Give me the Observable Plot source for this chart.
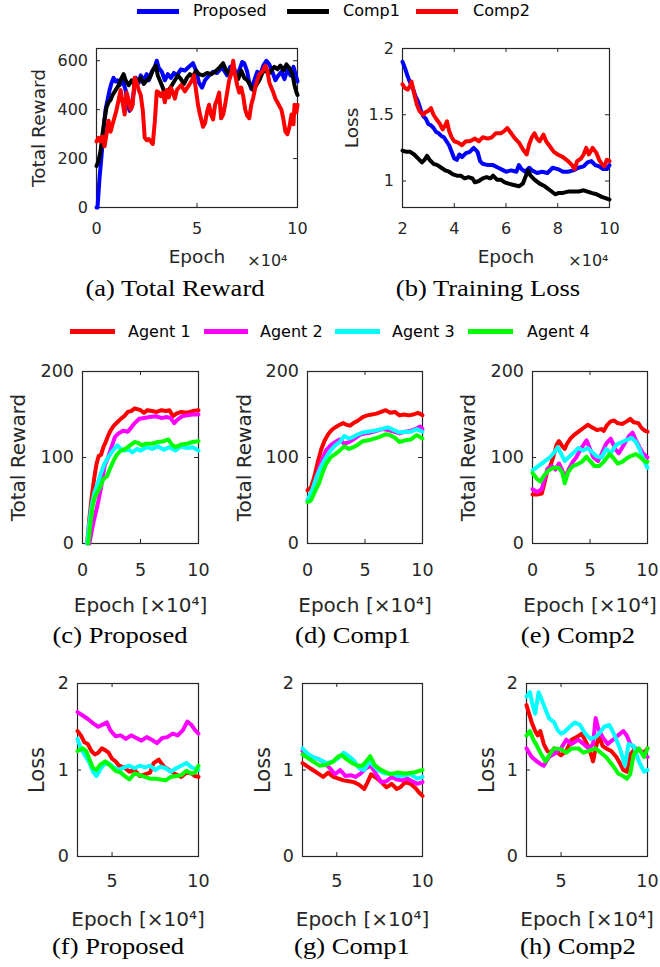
<!DOCTYPE html>
<html><head><meta charset="utf-8">
<script src="https://cdn.jsdelivr.net/npm/d3@7"></script>
<script src="https://cdn.jsdelivr.net/npm/@observablehq/plot@0.6"></script>
<style>
body{margin:0;background:#fff;}
#root{position:relative;width:660px;height:967px;overflow:hidden;background:#fff;}
.panel{position:absolute;}
.panel svg.ov{position:absolute;left:0;top:0;}
.cap{position:absolute;font-family:"Liberation Serif";font-size:22.5px;line-height:1;white-space:nowrap;color:#000;transform:translateX(-50%) scaleX(1.18);}
.lg{position:absolute;height:5px;}
.lt{position:absolute;font-family:"DejaVu Sans";font-size:16px;line-height:1;white-space:nowrap;color:#000;}
</style>
</head><body><div id="root"></div>
<script>
// ---------- data (x in units of 10^4 epochs) ----------
const aProposed = [[0,0],[0.05,0],[0.15,120],[0.25,210],[0.35,320],[0.45,400],[0.55,440],[0.65,480],[0.75,510],[0.85,530],[0.95,515],[1.05,520],[1.15,500],[1.3,520],[1.45,480],[1.55,420],[1.65,395],[1.75,410],[1.85,470],[1.95,530],[2.1,510],[2.2,540],[2.35,520],[2.5,545],[2.6,520],[2.75,555],[2.9,575],[3.0,600],[3.1,570],[3.25,555],[3.4,520],[3.55,545],[3.7,530],[3.85,550],[4.0,540],[4.2,565],[4.4,560],[4.6,575],[4.8,590],[4.95,560],[5.1,510],[5.25,490],[5.4,520],[5.6,540],[5.8,555],[6.0,550],[6.2,570],[6.35,560],[6.5,540],[6.65,575],[6.8,580],[6.95,545],[7.1,560],[7.25,595],[7.35,590],[7.5,555],[7.6,510],[7.7,485],[7.85,520],[8.0,555],[8.15,545],[8.3,580],[8.45,600],[8.6,585],[8.75,555],[8.9,520],[9.05,540],[9.2,555],[9.35,525],[9.5,565],[9.65,540],[9.8,575],[9.9,545],[10.0,515]];
const aComp1 = [[0,170],[0.1,190],[0.2,230],[0.3,300],[0.4,360],[0.5,410],[0.6,430],[0.7,440],[0.8,460],[0.95,480],[1.1,500],[1.25,530],[1.35,545],[1.45,520],[1.6,500],[1.75,520],[1.9,500],[2.05,515],[2.2,530],[2.35,505],[2.5,520],[2.65,530],[2.8,560],[2.95,580],[3.05,540],[3.15,520],[3.3,490],[3.45,450],[3.6,480],[3.75,500],[3.9,520],[4.05,540],[4.2,525],[4.35,505],[4.5,530],[4.65,545],[4.8,535],[4.95,560],[5.1,545],[5.3,540],[5.5,550],[5.7,545],[5.9,555],[6.1,570],[6.3,590],[6.45,560],[6.6,545],[6.75,575],[6.9,550],[7.05,525],[7.2,560],[7.35,530],[7.5,520],[7.65,500],[7.8,480],[7.95,500],[8.1,520],[8.25,550],[8.4,565],[8.55,545],[8.7,560],[8.85,575],[9.0,565],[9.15,580],[9.3,560],[9.45,585],[9.6,570],[9.75,545],[9.85,500],[9.95,470],[10.0,460]];
const aComp2 = [[0,270],[0.1,285],[0.2,270],[0.3,290],[0.4,250],[0.5,300],[0.6,355],[0.7,310],[0.8,340],[0.9,370],[1.0,400],[1.1,440],[1.2,480],[1.3,430],[1.4,380],[1.5,470],[1.6,440],[1.7,400],[1.8,420],[1.9,530],[2.0,510],[2.1,480],[2.2,460],[2.3,400],[2.4,285],[2.5,275],[2.6,280],[2.7,270],[2.8,260],[2.9,350],[3.0,475],[3.1,470],[3.2,455],[3.3,470],[3.4,430],[3.5,480],[3.6,450],[3.7,490],[3.8,470],[3.9,445],[4.0,480],[4.2,500],[4.4,475],[4.6,500],[4.75,520],[4.85,540],[4.95,480],[5.05,420],[5.15,380],[5.3,330],[5.4,345],[5.5,390],[5.6,420],[5.7,380],[5.8,360],[5.9,420],[6.0,440],[6.1,470],[6.2,365],[6.3,380],[6.4,420],[6.5,470],[6.6,520],[6.7,545],[6.8,600],[6.9,540],[7.0,500],[7.1,470],[7.2,490],[7.3,455],[7.4,400],[7.5,375],[7.6,365],[7.7,420],[7.8,450],[7.9,490],[8.0,520],[8.1,545],[8.25,555],[8.4,580],[8.5,560],[8.6,510],[8.7,490],[8.8,470],[8.9,445],[9.0,430],[9.1,415],[9.2,400],[9.3,360],[9.4,310],[9.5,300],[9.6,330],[9.7,380],[9.8,340],[9.85,420],[9.95,390],[10.0,420]];

const bProposed = [[2.0,1.9],[2.1,1.85],[2.2,1.79],[2.3,1.74],[2.4,1.7],[2.5,1.64],[2.6,1.6],[2.7,1.54],[2.8,1.49],[2.9,1.47],[3.0,1.43],[3.1,1.42],[3.2,1.4],[3.3,1.37],[3.4,1.36],[3.5,1.34],[3.6,1.33],[3.7,1.3],[3.8,1.27],[3.9,1.22],[4.0,1.17],[4.1,1.16],[4.2,1.2],[4.3,1.18],[4.45,1.21],[4.6,1.22],[4.75,1.25],[4.9,1.22],[5.0,1.15],[5.1,1.13],[5.3,1.12],[5.5,1.12],[5.7,1.1],[5.9,1.08],[6.0,1.07],[6.2,1.08],[6.4,1.07],[6.5,1.12],[6.6,1.09],[6.75,1.07],[6.9,1.1],[7.0,1.08],[7.2,1.06],[7.4,1.07],[7.6,1.06],[7.8,1.1],[8.0,1.09],[8.2,1.07],[8.4,1.07],[8.6,1.08],[8.8,1.1],[9.0,1.11],[9.15,1.14],[9.3,1.15],[9.45,1.12],[9.6,1.11],[9.75,1.09],[9.9,1.09],[10.0,1.12]];
const bComp1 = [[2.0,1.23],[2.15,1.22],[2.3,1.22],[2.45,1.2],[2.6,1.17],[2.75,1.14],[2.85,1.16],[2.95,1.19],[3.05,1.16],[3.2,1.13],[3.35,1.12],[3.5,1.1],[3.65,1.08],[3.8,1.07],[3.95,1.05],[4.1,1.04],[4.25,1.04],[4.4,1.02],[4.55,1.03],[4.7,1.02],[4.8,0.99],[4.95,1.0],[5.1,1.02],[5.25,1.03],[5.4,1.02],[5.5,1.04],[5.65,1.01],[5.8,1.01],[5.95,0.99],[6.1,0.98],[6.3,0.97],[6.5,0.96],[6.65,0.98],[6.75,1.03],[6.85,1.08],[6.95,1.04],[7.1,1.01],[7.3,0.98],[7.5,0.96],[7.7,0.93],[7.9,0.9],[8.05,0.91],[8.2,0.91],[8.4,0.92],[8.6,0.92],[8.8,0.92],[9.0,0.93],[9.15,0.92],[9.3,0.91],[9.5,0.9],[9.7,0.88],[9.85,0.87],[10.0,0.86]];
const bComp2 = [[2.0,1.73],[2.1,1.7],[2.2,1.69],[2.3,1.72],[2.35,1.75],[2.45,1.66],[2.55,1.58],[2.65,1.53],[2.8,1.5],[2.9,1.52],[3.0,1.53],[3.1,1.55],[3.2,1.5],[3.3,1.47],[3.45,1.43],[3.55,1.39],[3.65,1.42],[3.72,1.45],[3.8,1.38],[3.9,1.33],[4.0,1.3],[4.15,1.29],[4.3,1.27],[4.45,1.3],[4.6,1.3],[4.8,1.32],[4.95,1.3],[5.1,1.33],[5.3,1.32],[5.45,1.33],[5.6,1.36],[5.8,1.36],[5.95,1.38],[6.05,1.4],[6.2,1.36],[6.35,1.32],[6.5,1.29],[6.65,1.24],[6.8,1.2],[6.9,1.28],[7.0,1.33],[7.1,1.36],[7.2,1.32],[7.3,1.3],[7.45,1.35],[7.55,1.3],[7.7,1.26],[7.85,1.22],[8.0,1.2],[8.2,1.18],[8.4,1.15],[8.55,1.12],[8.65,1.09],[8.75,1.15],[8.9,1.17],[9.0,1.2],[9.1,1.25],[9.2,1.2],[9.35,1.25],[9.5,1.21],[9.6,1.16],[9.7,1.13],[9.8,1.11],[9.9,1.16],[10.0,1.15]];

const cAgent1 = [[0.4,0],[0.6,30],[0.8,55],[1.0,75],[1.2,92],[1.4,102],[1.6,103],[1.8,112],[2.0,118],[2.2,125],[2.4,131],[2.7,137],[3.0,141],[3.3,145],[3.6,148],[3.9,153],[4.2,154],[4.5,157],[4.8,156],[5.0,155],[5.3,152],[5.6,155],[6.0,154],[6.4,153],[6.8,155],[7.2,154],[7.5,155],[7.8,148],[8.1,151],[8.5,153],[9.0,152],[9.5,154],[10.0,155]];
const cAgent2 = [[0.6,0],[0.8,15],[1.0,28],[1.3,45],[1.6,65],[1.9,90],[2.2,100],[2.5,112],[2.8,124],[3.1,128],[3.5,131],[3.9,130],[4.2,135],[4.5,140],[4.9,145],[5.3,146],[5.8,147],[6.3,148],[6.8,146],[7.3,147],[7.6,146],[7.9,140],[8.2,144],[8.6,148],[9.0,149],[9.5,150],[10.0,150]];
const cAgent3 = [[0.4,0],[0.6,25],[0.8,45],[1.0,58],[1.3,70],[1.6,82],[1.9,93],[2.2,100],[2.5,106],[2.8,111],[3.0,114],[3.3,110],[3.6,108],[4.0,109],[4.3,106],[4.7,110],[5.0,108],[5.5,112],[6.0,110],[6.5,113],[7.0,109],[7.5,112],[8.0,108],[8.5,113],[9.0,111],[9.5,112],[10.0,108]];
const cAgent4 = [[0.5,0],[0.7,25],[0.9,45],[1.1,55],[1.3,60],[1.6,68],[1.8,75],[2.1,78],[2.4,88],[2.7,97],[3.0,104],[3.3,108],[3.7,110],[4.1,114],[4.5,118],[4.8,117],[5.1,114],[5.5,116],[6.0,116],[6.5,118],[7.0,119],[7.4,121],[7.7,115],[8.0,112],[8.5,115],[9.0,116],[9.5,118],[10.0,119]];

const dAgent1 = [[0,62],[0.3,65],[0.6,78],[0.9,95],[1.2,110],[1.5,120],[1.8,127],[2.1,132],[2.4,135],[2.8,138],[3.1,140],[3.4,138],[3.7,137],[4.0,140],[4.4,143],[4.8,147],[5.2,149],[5.6,150],[6.0,151],[6.4,153],[6.8,155],[7.2,152],[7.6,153],[8.0,149],[8.4,150],[8.8,149],[9.2,150],[9.6,152],[10.0,149]];
const dAgent2 = [[0,50],[0.4,60],[0.8,78],[1.2,95],[1.6,108],[2.0,114],[2.4,118],[2.8,121],[3.2,116],[3.6,118],[4.0,121],[4.5,126],[5.0,128],[5.5,129],[6.0,131],[6.5,133],[7.0,132],[7.5,130],[8.0,128],[8.5,130],[9.0,131],[9.5,134],[9.8,136],[10.0,133]];
const dAgent3 = [[0,50],[0.4,62],[0.8,78],[1.2,90],[1.6,100],[2.0,108],[2.4,114],[2.8,118],[3.2,125],[3.6,122],[4.0,124],[4.4,127],[4.8,129],[5.2,130],[5.8,131],[6.4,133],[7.0,135],[7.5,132],[8.0,129],[8.5,130],[9.0,130],[9.5,133],[10.0,130]];
const dAgent4 = [[0,48],[0.3,50],[0.7,62],[1.0,70],[1.3,82],[1.6,92],[2.0,100],[2.4,104],[2.8,108],[3.2,113],[3.6,110],[4.0,112],[4.4,115],[4.8,119],[5.3,120],[5.8,122],[6.3,124],[6.8,127],[7.2,126],[7.6,123],[8.0,118],[8.5,120],[9.0,121],[9.5,126],[10.0,122]];

const eAgent1 = [[0,57],[0.4,57],[0.8,58],[1.0,68],[1.3,85],[1.6,92],[1.9,105],[2.1,115],[2.3,119],[2.6,113],[2.8,110],[3.0,116],[3.3,122],[3.6,126],[4.0,130],[4.4,134],[4.8,138],[5.2,135],[5.6,132],[6.0,133],[6.2,131],[6.5,138],[6.8,142],[7.1,143],[7.4,140],[7.8,139],[8.2,142],[8.5,145],[8.8,141],[9.2,140],[9.5,134],[9.8,131],[10.0,130]];
const eAgent2 = [[0,63],[0.4,60],[0.8,63],[1.0,73],[1.3,87],[1.7,90],[2.0,86],[2.3,93],[2.6,85],[2.8,75],[3.1,85],[3.5,95],[3.8,100],[4.2,110],[4.5,116],[4.7,120],[5.0,110],[5.3,100],[5.7,96],[6.0,104],[6.4,116],[6.8,122],[7.2,110],[7.5,105],[8.0,116],[8.4,125],[8.7,129],[9.0,120],[9.3,112],[9.6,105],[10.0,100]];
const eAgent3 = [[0,85],[0.5,90],[1.0,95],[1.5,100],[1.9,106],[2.2,112],[2.5,104],[2.8,96],[3.2,101],[3.6,106],[4.0,111],[4.4,108],[4.8,111],[5.2,106],[5.6,101],[6.0,100],[6.4,110],[6.8,105],[7.3,115],[7.8,118],[8.3,121],[8.6,123],[9.0,118],[9.3,110],[9.7,96],[10.0,88]];
const eAgent4 = [[0,82],[0.4,75],[0.7,72],[1.0,79],[1.4,85],[1.8,88],[2.3,88],[2.6,82],[2.8,70],[3.1,83],[3.5,90],[3.9,92],[4.3,95],[4.7,101],[5.0,96],[5.4,90],[5.8,90],[6.2,95],[6.7,104],[7.0,100],[7.4,93],[7.8,95],[8.2,99],[8.6,102],[9.0,104],[9.4,100],[9.8,95],[10.0,95]];

const fAgent1 = [[3.0,1.45],[3.2,1.4],[3.4,1.32],[3.6,1.3],[3.8,1.22],[4.0,1.18],[4.2,1.2],[4.4,1.25],[4.6,1.23],[4.8,1.2],[5.0,1.13],[5.2,1.1],[5.4,1.05],[5.7,1.03],[6.0,0.98],[6.3,1.0],[6.6,0.93],[6.9,0.95],[7.2,0.97],[7.4,1.08],[7.7,1.12],[8.0,1.04],[8.3,1.0],[8.6,0.96],[9.0,0.92],[9.3,0.97],[9.6,0.96],[9.8,0.93],[10.0,0.92]];
const fAgent2 = [[3.0,1.67],[3.3,1.63],[3.6,1.59],[3.9,1.54],[4.2,1.5],[4.5,1.53],[4.7,1.55],[4.9,1.46],[5.2,1.39],[5.5,1.4],[5.8,1.36],[6.1,1.4],[6.4,1.37],[6.7,1.34],[7.0,1.38],[7.3,1.35],[7.6,1.31],[7.9,1.37],[8.2,1.38],[8.5,1.42],[8.8,1.4],[9.1,1.46],[9.35,1.56],[9.6,1.52],[9.8,1.46],[10.0,1.42]];
const fAgent3 = [[3.0,1.36],[3.2,1.25],[3.4,1.18],[3.7,1.08],[3.9,0.98],[4.1,0.93],[4.3,1.0],[4.5,1.06],[4.8,1.08],[5.1,1.03],[5.4,1.0],[5.7,1.03],[6.0,1.05],[6.3,1.02],[6.6,1.05],[6.9,1.03],[7.2,1.05],[7.5,1.0],[7.8,1.04],[8.1,1.02],[8.4,0.98],[8.7,1.02],[9.0,1.05],[9.3,1.08],[9.6,1.03],[10.0,1.0]];
const fAgent4 = [[3.0,1.22],[3.3,1.25],[3.5,1.22],[3.7,1.12],[3.9,1.02],[4.1,1.0],[4.3,1.06],[4.6,1.1],[4.9,1.05],[5.2,0.99],[5.5,0.97],[5.8,0.92],[6.0,0.89],[6.3,0.96],[6.6,0.94],[6.9,0.92],[7.2,0.9],[7.5,0.9],[7.8,0.89],[8.1,0.88],[8.4,0.92],[8.7,0.93],[9.0,0.94],[9.3,0.99],[9.6,0.96],[9.8,0.97],[10.0,1.05]];

const gAgent1 = [[3.0,1.08],[3.3,1.04],[3.6,1.0],[3.9,0.96],[4.2,0.92],[4.5,0.97],[4.8,0.92],[5.1,0.9],[5.4,0.88],[5.7,0.87],[6.0,0.86],[6.3,0.83],[6.6,0.78],[6.8,0.86],[7.0,0.95],[7.3,0.91],[7.6,0.86],[7.9,0.8],[8.2,0.84],[8.5,0.78],[8.7,0.8],[9.0,0.86],[9.3,0.84],[9.6,0.79],[9.8,0.74],[10.0,0.7]];
const gAgent2 = [[3.0,1.22],[3.3,1.17],[3.6,1.15],[4.0,1.12],[4.3,1.08],[4.6,1.02],[4.9,0.95],[5.2,1.0],[5.5,0.93],[5.8,0.94],[6.1,0.92],[6.4,0.96],[6.7,1.02],[7.0,1.05],[7.3,0.95],[7.6,0.86],[7.9,0.87],[8.2,0.92],[8.5,0.89],[8.8,0.88],[9.1,0.9],[9.4,0.87],[9.7,0.84],[10.0,0.86]];
const gAgent3 = [[3.0,1.25],[3.3,1.19],[3.6,1.15],[4.0,1.12],[4.4,1.08],[4.8,1.1],[5.1,1.14],[5.4,1.2],[5.7,1.16],[6.0,1.11],[6.3,1.02],[6.6,1.0],[6.9,1.1],[7.1,1.06],[7.4,1.0],[7.8,0.96],[8.2,0.96],[8.6,0.93],[9.0,0.94],[9.3,0.95],[9.7,0.9],[10.0,0.92]];
const gAgent4 = [[3.0,1.18],[3.3,1.14],[3.6,1.1],[4.0,1.05],[4.4,1.06],[4.8,1.1],[5.1,1.16],[5.3,1.17],[5.6,1.12],[5.9,1.08],[6.2,1.05],[6.5,1.05],[6.8,1.12],[6.95,1.16],[7.2,1.06],[7.5,1.01],[7.8,0.98],[8.1,0.95],[8.5,0.97],[9.0,0.96],[9.5,0.97],[9.8,0.99],[10.0,1.0]];

const hAgent1 = [[3.0,1.75],[3.15,1.65],[3.3,1.55],[3.5,1.45],[3.65,1.4],[3.8,1.45],[4.0,1.3],[4.2,1.22],[4.4,1.2],[4.6,1.25],[4.8,1.2],[5.0,1.17],[5.3,1.22],[5.6,1.35],[5.9,1.38],[6.2,1.42],[6.5,1.3],[6.7,1.2],[6.85,1.1],[7.0,1.25],[7.2,1.4],[7.4,1.28],[7.6,1.25],[7.9,1.22],[8.2,1.15],[8.4,1.08],[8.6,1.0],[8.8,0.98],[9.0,1.18],[9.3,1.25],[9.6,1.22],[9.8,1.2],[10.0,1.25]];
const hAgent2 = [[3.0,1.25],[3.3,1.15],[3.6,1.1],[3.8,1.07],[4.0,1.05],[4.3,1.15],[4.7,1.2],[5.0,1.25],[5.3,1.35],[5.6,1.3],[6.0,1.35],[6.3,1.3],[6.6,1.25],[6.85,1.3],[7.0,1.6],[7.15,1.48],[7.4,1.38],[7.7,1.3],[8.0,1.35],[8.3,1.4],[8.6,1.45],[8.8,1.4],[9.0,1.3],[9.3,1.25],[9.6,1.22],[9.8,1.18],[10.0,1.15]];
const hAgent3 = [[3.0,1.85],[3.2,1.9],[3.35,1.75],[3.5,1.65],[3.7,1.9],[3.9,1.8],[4.1,1.7],[4.3,1.6],[4.6,1.55],[4.8,1.46],[5.0,1.42],[5.2,1.44],[5.5,1.5],[5.8,1.55],[6.1,1.52],[6.4,1.42],[6.7,1.36],[7.0,1.38],[7.2,1.42],[7.5,1.5],[7.8,1.52],[8.1,1.4],[8.4,1.25],[8.7,1.05],[8.9,1.3],[9.2,1.28],[9.5,1.1],[9.8,0.98],[10.0,1.0]];
const hAgent4 = [[3.0,1.4],[3.2,1.45],[3.4,1.35],[3.6,1.28],[3.8,1.2],[4.1,1.1],[4.4,1.2],[4.6,1.25],[5.0,1.24],[5.3,1.2],[5.6,1.25],[6.0,1.25],[6.3,1.2],[6.6,1.22],[7.0,1.25],[7.3,1.2],[7.6,1.15],[8.0,1.05],[8.3,0.96],[8.6,0.93],[8.8,0.9],[9.0,0.95],[9.2,1.18],[9.5,1.25],[9.8,1.15],[10.0,1.25]];

// tick labels
const xTicksTop = [0, 5, 10];
const xTicksLoss = [2, 4, 6, 8, 10];
const yTicksReward = [0, 200, 400, 600];
const yTicksLoss = [1, 1.5, 2];
const xTicksAgent = [0, 5, 10];
const yTicksAgentReward = [0, 100, 200];
const xTicksAgentLoss = [5, 10];
const yTicksAgentLoss = [0, 1, 2];

// legend / captions
const methodNames = ["Proposed", "Comp1", "Comp2"];
const methodColors = ["#0000ff", "#000000", "#ff0000"];
const agentNames = ["Agent 1", "Agent 2", "Agent 3", "Agent 4"];
const agentColors = ["#ff0000", "#ff00ff", "#00ffff", "#00ff00"];
const captions = ["(a) Total Reward", "(b) Training Loss", "(c) Proposed", "(d) Comp1", "(e) Comp2", "(f) Proposed", "(g) Comp1", "(h) Comp2"];

// ---------- drawing ----------
const COL = "#262626";
const root = document.getElementById("root");

function panel(o) {
  const fw = o.width - o.ml - o.mr, fh = o.height - o.mt - o.mb;
  const fmt = d => String(d);
  const base = {
    width: o.width, height: o.height,
    marginLeft: o.ml, marginRight: o.mr, marginTop: o.mt, marginBottom: o.mb,
    x: {domain: o.xd, axis: null},
    y: {domain: o.yd, axis: null},
    style: {fontFamily: "DejaVu Sans", background: "transparent", overflow: "visible"}
  };
  // graphics layer: frame, inward ticks on all four sides, data lines
  const g = Plot.plot({...base, marks: [
    Plot.frame({stroke: COL, strokeWidth: 1.2}),
    Plot.tickX(o.xt, {x: d => d, insetTop: fh - 4, stroke: COL}),
    Plot.tickX(o.xt, {x: d => d, insetBottom: fh - 4, stroke: COL}),
    Plot.tickY(o.yt, {y: d => d, insetRight: fw - 4, stroke: COL}),
    Plot.tickY(o.yt, {y: d => d, insetLeft: fw - 4, stroke: COL}),
    ...o.series.map(s => Plot.line(s.data, {x: d => d[0], y: d => d[1], stroke: s.color, strokeWidth: 4, strokeLinejoin: "round"}))
  ]});
  // text layer: tick labels and axis titles
  const tmarks = [
    Plot.axisX(o.xt, {tickSize: 0, tickPadding: o.xpad, fontSize: o.tfs, color: COL, label: null, tickFormat: fmt}),
    Plot.text(o.yt, {y: d => d, text: fmt, frameAnchor: "left", dx: -8.5, textAnchor: "end", lineAnchor: "middle", fontSize: o.tfs, fill: COL}),
    Plot.text([o.xlabel], {frameAnchor: "bottom", dy: o.xdy, lineAnchor: "bottom", fontSize: o.lfs, fill: COL}),
    Plot.text([o.ylabel], {frameAnchor: "left", dx: o.ydx, rotate: -90, textAnchor: "middle", lineAnchor: "middle", fontSize: o.ylfs || o.lfs, fill: COL})
  ];
  if (o.mult) tmarks.push(Plot.text([o.mult], {frameAnchor: "bottom-right", textAnchor: "end", dx: o.multDx, dy: o.xdy + 3, lineAnchor: "bottom", fontSize: 16, fill: COL}));
  const t = Plot.plot({...base, marks: tmarks});
  t.classList.add("ov");
  const div = document.createElement("div");
  div.className = "panel";
  div.style.left = o.left + "px";
  div.style.top = o.top + "px";
  div.style.width = o.width + "px";
  div.style.height = o.height + "px";
  div.appendChild(g);
  div.appendChild(t);
  root.appendChild(div);
}

const ser = (arrs, cols) => arrs.map((data, i) => ({data, color: cols[i]}));

// Top row
const topCommon = {top: 30, height: 250, mt: 18, mb: 73, xpad: 15, tfs: 16, lfs: 18.5, xdy: 55, mult: "×10⁴", xlabel: "Epoch"};
panel({...topCommon, left: 0, width: 320, ml: 96, mr: 23, xd: [0, 10], yd: [0, 650], xt: xTicksTop, yt: yTicksReward, ylabel: "Total Reward", ydx: -57, multDx: -10,
  series: ser([aProposed, aComp1, aComp2], methodColors)});
panel({...topCommon, left: 320, width: 340, ml: 82, mr: 51, xd: [2, 10], yd: [0.8, 2], xt: xTicksLoss, yt: yTicksLoss, ylabel: "Loss", ydx: -50, multDx: -1,
  series: ser([bProposed, bComp1, bComp2], methodColors)});

// Middle row
const midCommon = {top: 350, width: 220, height: 275, mt: 21, mb: 82, xpad: 20, tfs: 17.5, lfs: 20, xdy: 68, xd: [0, 10], yd: [0, 200], xt: xTicksAgent, yt: yTicksAgentReward, xlabel: "Epoch [×10⁴]", ylabel: "Total Reward"};
panel({...midCommon, left: 0, ml: 82, mr: 22, ydx: -64, series: ser([cAgent1, cAgent2, cAgent3, cAgent4], agentColors)});
panel({...midCommon, left: 220, ml: 87, mr: 18, ydx: -63, series: ser([dAgent1, dAgent2, dAgent3, dAgent4], agentColors)});
panel({...midCommon, left: 440, ml: 92, mr: 13, ydx: -64, series: ser([eAgent1, eAgent2, eAgent3, eAgent4], agentColors)});

// Bottom row
const botCommon = {top: 660, width: 220, height: 275, mt: 23, mb: 79, xpad: 18, tfs: 17.5, lfs: 20, ylfs: 21, xdy: 69, xd: [3, 10], yd: [0, 2], xt: xTicksAgentLoss, yt: yTicksAgentLoss, xlabel: "Epoch [×10⁴]", ylabel: "Loss"};
panel({...botCommon, left: 0, ml: 77, mr: 22, ydx: -40, series: ser([fAgent1, fAgent2, fAgent3, fAgent4], agentColors)});
panel({...botCommon, left: 220, ml: 82, mr: 18, ydx: -39, series: ser([gAgent1, gAgent2, gAgent3, gAgent4], agentColors)});
panel({...botCommon, left: 440, ml: 86, mr: 13, ydx: -39, series: ser([hAgent1, hAgent2, hAgent3, hAgent4], agentColors)});

// Legends
function legend(names, colors, lines, texts, baseline) {
  names.forEach((n, i) => {
    const l = document.createElement("div");
    l.className = "lg";
    l.style.left = lines[i][0] + "px";
    l.style.width = (lines[i][1] - lines[i][0]) + "px";
    l.style.top = (baseline - 8) + "px";
    l.style.background = colors[i];
    root.appendChild(l);
    const t = document.createElement("div");
    t.className = "lt";
    t.textContent = n;
    t.style.left = texts[i] + "px";
    t.style.top = (baseline - 13.5) + "px";
    root.appendChild(t);
  });
}
legend(methodNames, methodColors, [[137, 179], [287, 329], [416, 458]], [193, 343, 473], 16.7);
legend(agentNames, agentColors, [[70, 115], [204, 248], [335, 380], [468, 513]], [128, 260, 392, 527], 337.3);

// Captions
const capPos = [[175, 297], [488, 297], [120, 643.5], [352.5, 643.5], [578, 643.5], [118, 955], [352, 955], [577.5, 955]];
captions.forEach((c, i) => {
  const d = document.createElement("div");
  d.className = "cap";
  d.textContent = c;
  d.style.left = capPos[i][0] + "px";
  d.style.top = (capPos[i][1] - 18.8) + "px";
  root.appendChild(d);
});
</script>
</body></html>
